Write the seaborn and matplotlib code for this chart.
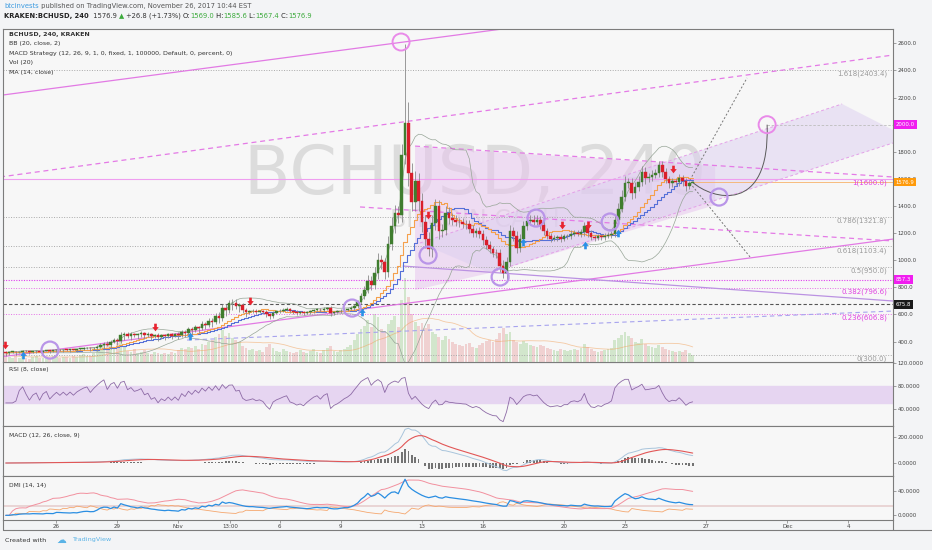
import numpy as np
import pandas as pd
import matplotlib
matplotlib.use("Agg")
import matplotlib.pyplot as plt
from matplotlib.path import Path
from matplotlib.patches import PathPatch, Polygon
from matplotlib.lines import Line2D
from matplotlib.transforms import blended_transform_factory
import seaborn as sns

sns.set_theme(style="white")
plt.rcParams["font.family"] = ["DejaVu Sans"]

# ---------------------------------------------------------------- data
# 4-hour bars, time axis in days (day 0 = 26 Oct 2017 00:00)
first_bar_day = -2.5
bar_hours = 4
first_open = 322.0

closes = [
    318, 322, 325, 320, 326, 330, 327, 324, 328, 330, 326, 332,
    335, 330, 334, 338, 336, 340, 338, 342, 340, 344, 347, 350,
    352, 349, 355, 362, 372, 385, 376, 398, 410, 402, 445, 458,
    440, 455, 446, 452, 462, 448, 455, 440, 446, 432, 445, 440,
    452, 444, 455, 447, 472, 465, 490, 482, 505, 498, 530, 522,
    555, 545, 590, 575, 648, 632, 682, 686, 660, 668, 630, 618,
    622, 628, 620, 624, 618, 600, 585, 612, 622, 628, 635, 640,
    622, 618, 612, 615, 610, 618, 625, 632, 636, 630, 640, 645,
    610, 618, 622, 628, 635, 640, 648, 665, 690, 735, 780, 850,
    820, 905, 1000, 985, 915, 1120, 1250, 1350, 1335, 1780, 2010, 1640,
    1430, 1585, 1440, 1280, 1160, 1080, 1275, 1400, 1215, 1225, 1350, 1310,
    1300, 1285, 1280, 1270, 1265, 1230, 1200, 1215, 1195, 1150, 1110, 1080,
    1055, 1050, 960, 905, 990, 1215, 1180, 1090, 1160, 1250, 1290, 1300,
    1285, 1300, 1260, 1215, 1180, 1160, 1165, 1170, 1160, 1175, 1175, 1195,
    1200, 1195, 1205, 1250, 1200, 1170, 1165, 1175, 1170, 1180, 1185, 1195,
    1300, 1380, 1470, 1570, 1570, 1495, 1540, 1580, 1650, 1605, 1615, 1630,
    1640, 1700, 1650, 1600, 1570, 1585, 1580, 1610, 1585, 1550, 1569.0, 1576.9,
]
# wick length above / below each candle body
upper_wicks = [
    6, 4, 5, 3, 6, 4, 5, 3, 4, 6, 3, 5,
    5, 4, 3, 6, 4, 5, 3, 4, 6, 4, 5, 6,
    6, 8, 7, 10, 14, 12, 16, 12, 14, 16, 25, 14,
    12, 14, 10, 12, 15, 12, 14, 10, 12, 14, 10, 12,
    12, 12, 10, 14, 16, 12, 15, 14, 16, 12, 18, 16,
    20, 22, 20, 25, 30, 28, 25, 30, 25, 20, 18, 16,
    12, 10, 14, 9, 11, 13, 10, 12, 9, 11, 10, 13,
    10, 9, 11, 8, 12, 10, 9, 11, 13, 10, 12, 11,
    14, 10, 9, 11, 12, 10, 13, 15, 18, 25, 30, 40,
    35, 45, 50, 40, 35, 60, 70, 60, 50, 80, 120, 90,
    80, 70, 60, 55, 50, 45, 60, 50, 45, 40, 50, 40,
    35, 30, 30, 28, 25, 30, 28, 25, 30, 28, 25, 30,
    25, 30, 35, 40, 35, 45, 30, 35, 30, 40, 35, 30,
    30, 35, 25, 30, 25, 20, 22, 18, 20, 22, 20, 25,
    20, 22, 25, 30, 28, 20, 18, 22, 20, 18, 20, 22,
    35, 40, 45, 50, 40, 35, 38, 40, 45, 35, 30, 32,
    30, 35, 30, 28, 25, 22, 20, 25, 22, 20, 18, 9,
]
lower_wicks = [
    5, 14, 4, 16, 6, 12, 4, 15, 5, 13, 6, 14,
    5, 15, 4, 12, 6, 16, 5, 13, 4, 14, 6, 12,
    8, 20, 9, 24, 10, 26, 12, 28, 10, 30, 12, 35,
    14, 30, 12, 28, 15, 32, 12, 30, 14, 28, 12, 26,
    12, 28, 14, 26, 12, 30, 14, 32, 12, 34, 14, 30,
    16, 38, 18, 40, 20, 45, 22, 48, 20, 42, 18, 36,
    14, 12, 15, 13, 12, 18, 20, 14, 12, 11, 10, 12,
    14, 12, 15, 11, 13, 10, 12, 11, 10, 12, 14, 11,
    18, 12, 10, 11, 9, 12, 10, 12, 15, 14, 20, 25,
    40, 30, 45, 50, 55, 40, 45, 50, 60, 55, 70, 90,
    70, 65, 80, 75, 70, 60, 55, 50, 55, 45, 40, 45,
    40, 35, 32, 30, 35, 30, 28, 30, 32, 35, 30, 28,
    30, 35, 45, 35, 40, 30, 35, 38, 30, 28, 25, 30,
    28, 25, 30, 28, 25, 22, 20, 22, 25, 20, 22, 20,
    20, 18, 22, 25, 28, 22, 20, 18, 20, 22, 18, 20,
    25, 22, 25, 30, 35, 45, 38, 30, 35, 40, 30, 28,
    25, 28, 35, 30, 35, 28, 25, 30, 35, 40, 25, 2,
]
# bars with an exact extreme
high_wicks = {118: 2595, 119: 2170, 121: 1660, 203: 1585.6}
low_wicks = {0: 295, 125: 1030, 147: 870, 203: 1567.4}

volumes = [
    900, 500, 400, 600, 450, 500, 400, 350, 500, 600, 450, 400,
    500, 450, 600, 500, 400, 550, 500, 450, 600, 500, 700, 800,
    650, 600, 900, 1200, 1500, 1800, 2000, 1600, 1400, 1900, 2400, 1500,
    1100, 1000, 1300, 900, 1000, 1200, 900, 800, 1000, 900, 800, 900,
    850, 1000, 900, 1200, 1400, 1300, 1500, 1400, 1600, 1300, 1800, 1700,
    2000, 2200, 2500, 2800, 3200, 2600, 2900, 2400, 2200, 2000, 1600, 1400,
    1200, 1300, 1100, 1200, 1000, 1500, 1800, 1400, 1100, 1000, 1300, 1100,
    1000, 900, 1000, 1200, 1000, 900, 1100, 1300, 1000, 900, 1200, 1400,
    1600, 1100, 1000, 1200, 1300, 1500, 1700, 2200, 2800, 3300, 3600, 4200,
    3500, 4800, 4500, 3300, 3000, 3800, 4200, 4600, 3500, 6200, 8400, 6500,
    4800, 4000, 3600, 3900, 3400, 3800, 3000, 2800, 2500, 2200, 2600, 2300,
    2000, 1800, 1700, 1600, 1800, 1900, 1500, 1400, 1700, 1900, 2100, 2200,
    2000, 2300, 2900, 3400, 2800, 3000, 2200, 2000, 1800, 2100, 1900, 1700,
    1600, 1500, 1700, 1600, 1400, 1300, 1200, 1100, 1300, 1200, 1100, 1200,
    1300, 1200, 1400, 1800, 1500, 1300, 1100, 1000, 1100, 1200, 1300, 1400,
    2200, 2400, 2700, 3000, 2600, 2400, 2000, 1900, 2300, 1800, 1600, 1500,
    1400, 1700, 1500, 1300, 1200, 1100, 1000, 1100, 1000, 1200, 900, 700,
]

# Fibonacci retracement drawn from 300 to 1600
fib_low, fib_high = 300.0, 1600.0
fib_ratios = [0, 0.236, 0.382, 0.5, 0.618, 0.786, 1, 1.618]
fib_pink = [False, True, True, False, False, False, True, False]

marked_level_pink = 857.3
marked_level_dark = 675.8
target_price = 2000.0
last_price = 1576.9

# strategy signals (day, price)
sell_days = [-2.54, 4.85, 9.53, 18.3, 24.9, 26.18, 30.37]
sell_prices = [374, 507, 698, 1333, 1260, 1260, 1673]
buy_days = [-1.65, 6.58, 15.05, 22.98, 26.03, 27.66]
buy_prices = [300, 441, 618, 1134, 1112, 1200]

# hand-drawn trend lines: (day0, price0, day1, price1)
solid_pink_lines = [(-2.64, 2219, 23.82, 2743), (-2.78, 286, 41.2, 1156)]
solid_purple_lines = [(17.07, 957, 41.2, 699)]
dashed_pink_lines = [(-2.78, 1614, 41.2, 2514), (14.95, 1393, 41.2, 1142),
                     (17.66, 1842, 41.2, 1614)]
dashed_lavender_lines = [(6.43, 411, 41.2, 625)]
channel_lines = [(17.9, 1127, 38.69, 2153), (21.35, 906, 41.2, 1865)]
channel_area_days = [17.9, 38.69, 41.2, 41.2, 21.35]
channel_area_prices = [1127, 2153, 1961, 1865, 906]
wedge_area_days = [17.66, 32.44, 32.44, 21.35, 17.66]
wedge_area_prices = [1836, 1695, 1407, 906, 780]
projection_dashes = [(31.2, 1592, 34.01, 2345), (31.2, 1570, 34.16, 1024)]
projection_curve_days = [31.3, 32.29, 35.15, 35.0]
projection_curve_prices = [1579, 1444, 1334, 2000]

pink_ring_days = [16.97, 35.0]
pink_ring_prices = [2610, 2000]
purple_ring_days = [32.63, 27.27, 23.62, 18.3, 21.85, 14.56, -0.32]
purple_ring_prices = [1466, 1282, 1311, 1038, 876, 647, 337]

date_ticks = [0, 3, 6, 8.54, 11, 14, 18, 21, 25, 28, 32, 36, 39]
date_labels = ["26", "29", "Nov", "13:00", "6", "9", "13", "16", "20", "23",
               "27", "Dec", "4"]
price_ticks = [400, 600, 800, 1000, 1200, 1400, 1600, 1800, 2000, 2200,
               2400, 2600]

# ---------------------------------------------------------------- series
n = len(closes)
t = first_bar_day + np.arange(n) * bar_hours / 24.0
c = np.array(closes, dtype=float)
o = np.r_[first_open, c[:-1]]
hi = np.maximum(o, c) + np.array(upper_wicks, dtype=float)
lo = np.minimum(o, c) - np.array(lower_wicks, dtype=float)
for k, v in high_wicks.items():
    hi[k] = v
for k, v in low_wicks.items():
    lo[k] = v
vol = np.array(volumes, dtype=float)

close = pd.Series(c)
ma14 = close.rolling(14, min_periods=1).mean()
bb_mid = close.rolling(20, min_periods=1).mean()
bb_sd = close.rolling(20, min_periods=1).std(ddof=0).fillna(0)
bb_up = bb_mid + 2 * bb_sd
bb_dn = bb_mid - 2 * bb_sd
vol_ma = pd.Series(vol).rolling(20, min_periods=1).mean()

delta = close.diff().fillna(0)
gain = delta.clip(lower=0).ewm(alpha=1 / 8, adjust=False).mean()
loss = (-delta.clip(upper=0)).ewm(alpha=1 / 8, adjust=False).mean()
rsi = 100 - 100 / (1 + gain / loss.replace(0, np.nan))
rsi = rsi.fillna(50)

ema12 = close.ewm(span=12, adjust=False).mean()
ema26 = close.ewm(span=26, adjust=False).mean()
macd = ema12 - ema26
signal = macd.ewm(span=9, adjust=False).mean()
hist = macd - signal

H_ = pd.Series(hi)
L_ = pd.Series(lo)
up_move = H_.diff().fillna(0)
dn_move = (-L_.diff()).fillna(0)
plus_dm = pd.Series(np.where((up_move > dn_move) & (up_move > 0), up_move, 0.0))
minus_dm = pd.Series(np.where((dn_move > up_move) & (dn_move > 0), dn_move, 0.0))
tr = pd.concat([H_ - L_, (H_ - close.shift()).abs(), (L_ - close.shift()).abs()],
               axis=1).max(axis=1).fillna(H_ - L_)


def rma(s):
    return s.ewm(alpha=1 / 14, adjust=False).mean()


atr = rma(tr).replace(0, np.nan)
pdi = (100 * rma(plus_dm) / atr).fillna(20)
mdi = (100 * rma(minus_dm) / atr).fillna(20)
dx = (100 * (pdi - mdi).abs() / (pdi + mdi).replace(0, np.nan)).fillna(0)
adx = rma(dx)

# ---------------------------------------------------------------- layout
W, H = 932, 550
BG = "#f7f7f7"
FIGBG = "#f3f4f6"
EDGE = "#7c7c7c"
TXT = "#444444"
GREEN = "#3f7d2e"
RED = "#d91e2b"

fig = plt.figure(figsize=(9.32, 5.5), dpi=100, facecolor=FIGBG)


def frame(top, bottom, left=3, right=893):
    return [left / W, 1 - bottom / H, (right - left) / W, (bottom - top) / H]


axv = fig.add_axes(frame(29, 362))
ax = fig.add_axes(frame(29, 362), sharex=axv)
ax_rsi = fig.add_axes(frame(362, 426), sharex=axv)
ax_macd = fig.add_axes(frame(426, 476), sharex=axv)
ax_dmi = fig.add_axes(frame(476, 520), sharex=axv)

axv.set_zorder(1)
ax.set_zorder(3)
ax.patch.set_visible(False)
axv.set_facecolor(BG)
for a in (ax_rsi, ax_macd, ax_dmi):
    a.set_facecolor(BG)

for a in (ax, axv, ax_rsi, ax_macd, ax_dmi):
    for s in a.spines.values():
        s.set_color(EDGE)
        s.set_linewidth(0.8)
for s in axv.spines.values():
    s.set_visible(False)

x_left, x_right = -2.635, 41.2
axv.set_xlim(x_left, x_right)

# ---------------------------------------------------------------- volume
vol_colors = np.where(c >= o, "#7fbf6a", "#e07a7a")
axv.bar(t, vol, width=0.14, color=vol_colors, alpha=0.3, linewidth=0)
sns.lineplot(x=t, y=vol_ma, ax=axv, color="#f2a35e", linewidth=0.6,
             alpha=0.55, legend=False)
axv.set_ylim(0, 33300)
axv.set_yticks([])
axv.tick_params(axis="x", labelbottom=False, bottom=False)
axv.set_xlabel("")
axv.set_ylabel("")

# ---------------------------------------------------------------- price panel
ax.set_ylim(249, 2706)

ax.text(0.530, 0.5616, "BCHUSD, 240", transform=ax.transAxes, ha="center",
        va="center", fontsize=49, color="#dcdcdc", zorder=0.5)
ax.text(0.53, 0.425, "BITCOIN CASH", transform=ax.transAxes, ha="center",
        va="center", fontsize=17, color="#dcdcdc", zorder=0.5)

ax.add_patch(Polygon(list(zip(wedge_area_days, wedge_area_prices)),
                     closed=True, fc="#e8c6ee", ec="none", alpha=0.55, zorder=1))
ax.add_patch(Polygon(list(zip(channel_area_days, channel_area_prices)),
                     closed=True, fc="#dccff0", ec="none", alpha=0.5, zorder=1))

# Fibonacci levels
for r, pink in zip(fib_ratios, fib_pink):
    lvl = fib_low + r * (fib_high - fib_low)
    col = "#e46fe6" if pink else "#a9a9a9"
    ax.axhline(lvl, color=col, lw=0.7, ls=(0, (1, 1.6)), zorder=1.5)
    ax.text(0.9933, lvl - 6, f"{r:g}({lvl:.1f})",
            transform=blended_transform_factory(ax.transAxes, ax.transData),
            ha="right", va="top", fontsize=5.0,
            color="#e040e0" if pink else "#9a9a9a", zorder=2)
ax.axhline(fib_high, color="#ef9ef0", lw=0.8, zorder=1.5)
ax.axhline(marked_level_pink, color="#e040f0", lw=0.8, ls=(0, (1, 1.3)), zorder=1.6)
ax.axhline(marked_level_dark, color="#555555", lw=0.8, ls=(0, (3, 2)), zorder=1.6)
ax.hlines(target_price, 35.0, x_right, color="#bdbdbd", lw=0.6,
          ls=(0, (3, 2)), zorder=1.6)
ax.hlines(last_price, t[-1], x_right, color="#f7b26a", lw=0.6, zorder=1.6)

for d0, p0, d1, p1 in solid_pink_lines:
    ax.plot([d0, d1], [p0, p1], color="#e27ae4", lw=0.9, zorder=2)
for d0, p0, d1, p1 in solid_purple_lines:
    ax.plot([d0, d1], [p0, p1], color="#bb92e2", lw=0.9, zorder=2)
for d0, p0, d1, p1 in dashed_pink_lines:
    ax.plot([d0, d1], [p0, p1], color="#e47ae6", lw=0.9, ls=(0, (4, 3)), zorder=2)
for d0, p0, d1, p1 in dashed_lavender_lines:
    ax.plot([d0, d1], [p0, p1], color="#a7a3ee", lw=0.8, ls=(0, (4, 3)), zorder=2)
for d0, p0, d1, p1 in channel_lines:
    ax.plot([d0, d1], [p0, p1], color="#e3a0e8", lw=0.7, ls=(0, (3, 2.5)), zorder=2)
for d0, p0, d1, p1 in projection_dashes:
    ax.plot([d0, d1], [p0, p1], color="#777777", lw=0.7, ls=(0, (2, 2)), zorder=2)
curve = Path(list(zip(projection_curve_days, projection_curve_prices)),
             [Path.MOVETO, Path.CURVE4, Path.CURVE4, Path.CURVE4])
ax.add_patch(PathPatch(curve, fc="none", ec="#5a5a5a", lw=0.7, zorder=2))

# Bollinger bands and moving averages
sns.lineplot(x=t, y=bb_up, ax=ax, color="#97a597", linewidth=0.5, legend=False, zorder=2.5)
sns.lineplot(x=t, y=bb_dn, ax=ax, color="#97a597", linewidth=0.5, legend=False, zorder=2.5)
sns.lineplot(x=t, y=bb_mid, ax=ax, color="#5570d8", linewidth=0.8,
             drawstyle="steps-mid", legend=False, zorder=2.6)
sns.lineplot(x=t, y=ma14, ax=ax, color="#f5a04c", linewidth=0.8,
             drawstyle="steps-mid", legend=False, zorder=2.7)

# candles
ax.vlines(t, lo, hi, color="#8a8a8a", lw=0.6, zorder=3)
body = np.maximum(np.abs(c - o), 5)
cols = np.where(c >= o, GREEN, RED)
ax.bar(t, body, bottom=np.minimum(o, c), width=0.13, color=cols,
       edgecolor=cols, linewidth=0.3, zorder=4)

# rings
ax.scatter(pink_ring_days, pink_ring_prices, s=150, facecolors="none",
           edgecolors="#e98ae9", linewidths=1.4, zorder=5)
ax.scatter(purple_ring_days, purple_ring_prices, s=150, facecolors="none",
           edgecolors="#b995e8", linewidths=1.6, zorder=5)

# strategy arrows
arrow_dn = Path([(-0.35, 1), (0.35, 1), (0.35, 0.1), (0.85, 0.1), (0, -1),
                 (-0.85, 0.1), (-0.35, 0.1), (-0.35, 1)],
                [Path.MOVETO] + [Path.LINETO] * 6 + [Path.CLOSEPOLY])
arrow_up = Path([(x, -y) for x, y in arrow_dn.vertices], arrow_dn.codes)
ax.scatter(sell_days, sell_prices, marker=arrow_dn, s=30, color="#e8232f",
           linewidths=0, zorder=6)
ax.scatter(buy_days, buy_prices, marker=arrow_up, s=30, color="#2a8fe6",
           linewidths=0, zorder=6)

# legend block
legend_lines = ["BCHUSD, 240, KRAKEN", "BB (20, close, 2)",
                "MACD Strategy (12, 26, 9, 1, 0, fixed, 1, 100000, Default, 0, percent, 0)",
                "Vol (20)", "MA (14, close)"]
for k, s in enumerate(legend_lines):
    y_px = 34.3 + k * 9.5
    ax.text(0.0067, 1 - (y_px - 29) / 333, s, transform=ax.transAxes,
            fontsize=4.5, color="#333333", va="center", ha="left",
            fontweight="bold" if k == 0 else "normal", zorder=7)

# price scale on the right (the 2000 tick sits under the target box)
ax.yaxis.tick_right()
ax.set_yticks(price_ticks)
ax.set_yticklabels(["" if v == target_price else f"{v:.1f}" for v in price_ticks])
ax.tick_params(axis="y", labelsize=3.9, labelcolor=TXT, length=2, width=0.5,
               color=EDGE, pad=1.5)
ax.tick_params(axis="x", labelbottom=False, bottom=False)
ax.set_xlabel("")
ax.set_ylabel("")

axis_tr = blended_transform_factory(ax.transAxes, ax.transData)
for val, fc in [(target_price, "#f01ef0"), (last_price, "#ff9a0a"),
                (marked_level_pink, "#f01ef0"), (marked_level_dark, "#1a1a1a")]:
    ax.text(1.003, val, f"{val:.1f}", transform=axis_tr, ha="left", va="center",
            fontsize=3.9, color="white", clip_on=False, zorder=10,
            bbox=dict(boxstyle="square,pad=0.35", fc=fc, ec="none"))

# ---------------------------------------------------------------- RSI
ax_rsi.axhspan(50, 80, color="#e6d5f1", zorder=0)
sns.lineplot(x=t, y=rsi, ax=ax_rsi, color="#8d6aa6", linewidth=0.6, legend=False)
ax_rsi.set_ylim(10, 121)
ax_rsi.text(0.0067, 0.875, "RSI (8, close)", transform=ax_rsi.transAxes,
            fontsize=4.3, color="#333333", va="center")

# ---------------------------------------------------------------- MACD
ax_macd.bar(t, hist, width=0.09, color="#5c5c5c", linewidth=0, alpha=0.85)
sns.lineplot(x=t, y=macd, ax=ax_macd, color="#a9c5dc", linewidth=0.7, legend=False)
sns.lineplot(x=t, y=signal, ax=ax_macd, color="#e25656", linewidth=0.8, legend=False)
ax_macd.set_ylim(-101, 288)
ax_macd.text(0.0067, 0.8, "MACD (12, 26, close, 9)", transform=ax_macd.transAxes,
             fontsize=4.3, color="#333333", va="center")

# ---------------------------------------------------------------- DMI
ax_dmi.axhline(15, color="#e8d2d2", lw=1.3, zorder=0.5)
sns.lineplot(x=t, y=mdi, ax=ax_dmi, color="#f5a76e", linewidth=0.6, legend=False)
sns.lineplot(x=t, y=adx, ax=ax_dmi, color="#f2909e", linewidth=0.7, legend=False)
sns.lineplot(x=t, y=pdi, ax=ax_dmi, color="#2a8ee2", linewidth=0.9, legend=False)
ax_dmi.set_ylim(-7.6, 64)
ax_dmi.text(0.0067, 0.773, "DMI (14, 14)", transform=ax_dmi.transAxes,
            fontsize=4.3, color="#333333", va="center")

for a, ticks in [(ax_rsi, [40, 80, 120]), (ax_macd, [0, 200]), (ax_dmi, [0, 40])]:
    a.yaxis.tick_right()
    a.set_yticks(ticks)
    a.set_yticklabels([f"{v:.4f}" for v in ticks])
    a.tick_params(axis="y", labelsize=3.9, labelcolor=TXT, length=2, width=0.5,
                  color=EDGE, pad=1.5)
    a.set_xlabel("")
    a.set_ylabel("")
for a in (ax_rsi, ax_macd):
    a.tick_params(axis="x", labelbottom=False, bottom=False)

ax_dmi.set_xticks(date_ticks)
ax_dmi.set_xticklabels(date_labels)
ax_dmi.tick_params(axis="x", labelsize=4.0, labelcolor=TXT, length=2, width=0.5,
                   color=EDGE, pad=1.2, bottom=True)
axv.set_xlim(x_left, x_right)

# outer frame below the time scale
fig.add_artist(Line2D([3 / W, 1.0], [1 - 530 / H] * 2, color=EDGE, lw=0.8))
fig.add_artist(Line2D([3 / W, 3 / W], [1 - 520 / H, 1 - 530 / H], color=EDGE, lw=0.8))
fig.add_artist(Line2D([893 / W, 893 / W], [1 - 520 / H, 1 - 530 / H], color=EDGE, lw=0.8))

# ---------------------------------------------------------------- header
HFS = 4.9
h1 = fig.text(4 / W, 1 - 6 / H, "btcinvests", fontsize=HFS, color="#3d9be0",
              va="center", ha="left")
ax.annotate(" published on TradingView.com, November 26, 2017 10:44 EST",
            xy=(1, 0), xycoords=h1, va="bottom", ha="left", fontsize=HFS,
            color="#555555", annotation_clip=False)

pieces = [("KRAKEN:BCHUSD, 240", "#222222", "bold"), ("  1576.9 ", "#333333", "normal"),
          ("\u25B2", "#3caa3c", "normal"), (" +26.8 (+1.73%) ", "#333333", "normal"),
          ("O:", "#222222", "normal"), ("1569.0", "#3caa3c", "normal"),
          (" H:", "#222222", "normal"), ("1585.6", "#3caa3c", "normal"),
          (" L:", "#222222", "normal"), ("1567.4", "#3caa3c", "normal"),
          (" C:", "#222222", "normal"), ("1576.9", "#3caa3c", "normal")]
prev = None
for s, col, wt in pieces:
    if prev is None:
        prev = fig.text(4 / W, 1 - 16 / H, s, fontsize=HFS, color=col,
                        fontweight=wt, va="center", ha="left")
    else:
        prev = ax.annotate(s, xy=(1, 0), xycoords=prev, va="bottom", ha="left",
                           fontsize=HFS, color=col, fontweight=wt,
                           annotation_clip=False)

# ---------------------------------------------------------------- footer
fig.text(5 / W, 1 - 540 / H, "Created with", fontsize=4.6, color="#333333", va="center")
fig.text(56 / W, 1 - 540 / H, "\u2601", fontsize=7, color="#5ab3e6", va="center")
fig.text(72 / W, 1 - 540 / H, "TradingView", fontsize=4.6, color="#5ab3e6", va="center")

fig.savefig("out.png", dpi=100, facecolor=FIGBG)
